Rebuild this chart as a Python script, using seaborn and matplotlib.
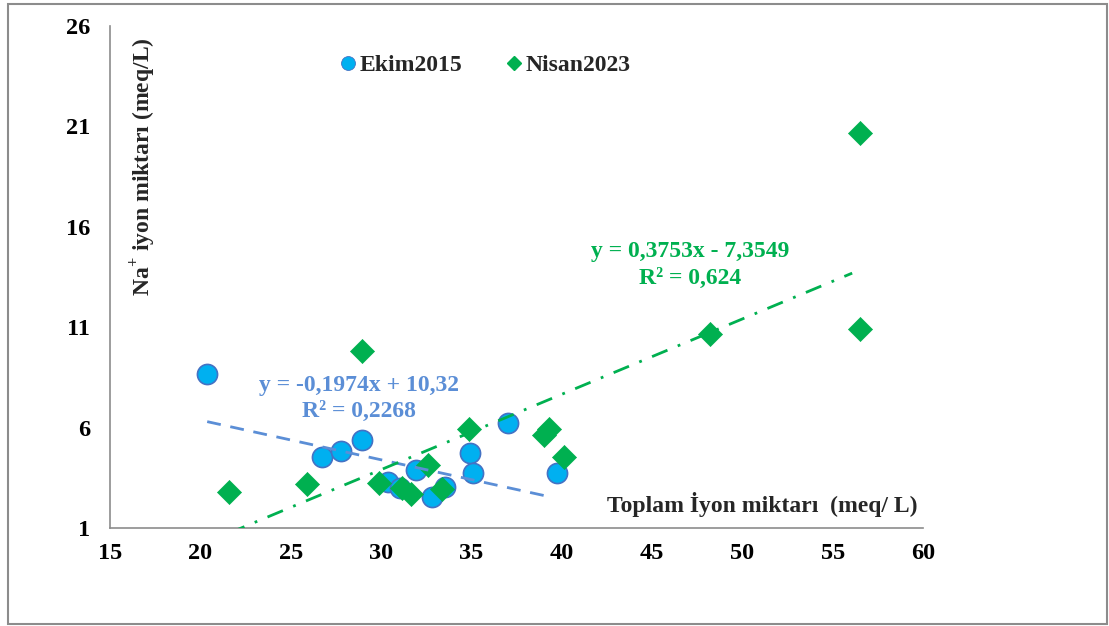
import numpy as np
import pandas as pd
import matplotlib
matplotlib.use("Agg")
import matplotlib.pyplot as plt
from matplotlib.lines import Line2D
from matplotlib.patches import Rectangle
import seaborn as sns

# Ekim 2015 samples: total ions vs Na+ (meq/L)
ekim_total = [20.38, 26.75, 27.78, 28.93, 30.40, 31.05, 31.93, 32.84, 33.54, 34.92, 35.07, 37.04, 39.72]
ekim_na = [8.65, 4.52, 4.83, 5.38, 3.31, 2.98, 3.89, 2.56, 3.06, 4.72, 3.72, 6.24, 3.75]

# Nisan 2023 samples
nisan_total = [21.59, 25.88, 28.96, 29.87, 31.14, 31.66, 32.62, 33.35, 34.87, 39.04, 39.30, 40.14, 48.20, 56.50, 56.50]
nisan_na = [2.78, 3.19, 9.81, 3.23, 2.98, 2.69, 4.14, 2.93, 5.92, 5.63, 5.93, 4.55, 10.66, 10.91, 20.67]

# Linear trend coefficients (slope, intercept)
ekim_fit = (-0.1974, 10.32)
nisan_fit = (0.3753, -7.3549)
ekim_eq = "y = -0,1974x + 10,32\nR² = 0,2268"
nisan_eq = "y = 0,3753x - 7,3549\nR² = 0,624"

x_ticks = [15, 20, 25, 30, 35, 40, 45, 50, 55, 60]
y_ticks = [1, 6, 11, 16, 21, 26]

sns.set_style("white")
plt.rcParams["font.family"] = ["Liberation Serif", "DejaVu Serif"]
plt.rcParams["font.weight"] = "bold"
plt.rcParams["mathtext.fontset"] = "custom"
plt.rcParams["mathtext.rm"] = "Liberation Serif:bold"
plt.rcParams["mathtext.bf"] = "Liberation Serif:bold"

BLUE_FILL = "#00B0F0"
BLUE_EDGE = "#4472C4"
BLUE_TXT = "#5B8ED6"
GREEN = "#00B050"
AXIS = "#8C8C8C"

fig = plt.figure(figsize=(11.09, 6.26), dpi=100)
ax = fig.add_axes([110 / 1109, 1 - 528 / 626, 813 / 1109, 502 / 626])

ekim = pd.DataFrame({"total": ekim_total, "na": ekim_na})
nisan = pd.DataFrame({"total": nisan_total, "na": nisan_na})

sns.scatterplot(data=ekim, x="total", y="na", ax=ax, marker="o", s=210,
                color=BLUE_FILL, edgecolor=BLUE_EDGE, linewidth=1.2, zorder=3)
sns.scatterplot(data=nisan, x="total", y="na", ax=ax, marker="D", s=150,
                color=GREEN, edgecolor=GREEN, linewidth=0.5, zorder=4)

# Trend lines over each series' range
xe = np.array([min(ekim_total), 39.16])
ax.plot(xe, ekim_fit[0] * xe + ekim_fit[1], ls=(0, (5, 3.5)), color=BLUE_TXT,
        lw=2.0, zorder=5)
xn = np.array([min(nisan_total), 56.08])
ax.plot(xn, nisan_fit[0] * xn + nisan_fit[1], ls=(0, (6, 4, 1, 4)), color=GREEN,
        lw=2.0, zorder=6)

ax.text(28.78, 7.45, ekim_eq, color=BLUE_TXT, fontsize=17, ha="center",
        va="center", fontweight="bold", linespacing=1.35, zorder=7)
ax.text(47.1, 14.1, nisan_eq, color=GREEN, fontsize=17, ha="center",
        va="center", fontweight="bold", linespacing=1.35, zorder=7)

ax.set_xlim(15, 60)
ax.set_ylim(1, 26)
ax.set_xticks(x_ticks)
ax.set_yticks(y_ticks)
ax.tick_params(axis="both", labelsize=17.5, colors=AXIS, labelcolor="black",
               length=4.5, width=1.1, direction="out")
ax.tick_params(axis="x", pad=6)
ax.tick_params(axis="y", pad=10)
for lab in ax.get_xticklabels() + ax.get_yticklabels():
    lab.set_fontweight("bold")

for side in ["top", "right"]:
    ax.spines[side].set_visible(False)
for side in ["left", "bottom"]:
    ax.spines[side].set_color(AXIS)
    ax.spines[side].set_linewidth(1.2)
ax.set_xlabel("")
ax.set_ylabel("")

ax.text(0.041, 0.719, r"Na$^{+}$ iyon miktarı (meq/L)", transform=ax.transAxes,
        rotation=90, ha="center", va="center", fontsize=17, fontweight="bold")
ax.text(0.802, 0.046, "Toplam İyon miktarı  (meq/ L)", transform=ax.transAxes,
        ha="center", va="center", fontsize=17, fontweight="bold")

handles = [
    Line2D([], [], marker="o", ls="none", markersize=10, markerfacecolor=BLUE_FILL,
           markeredgecolor=BLUE_EDGE, markeredgewidth=0.6, label="Ekim2015"),
    Line2D([], [], marker="D", ls="none", markersize=7, markerfacecolor=GREEN,
           markeredgecolor=GREEN, label="Nisan2023"),
]
fig.legend(handles=handles, loc="center", bbox_to_anchor=(0.438, 0.895), ncol=2,
           frameon=False, handletextpad=0.2, columnspacing=1.9, handlelength=0.6,
           prop={"family": "Liberation Serif", "weight": "bold", "size": 17})

fig.patches.append(Rectangle((8 / 1109, 2 / 626), 1099 / 1109, 620 / 626,
                             transform=fig.transFigure, fill=False,
                             edgecolor=AXIS, linewidth=1.5))

fig.savefig("out.png", dpi=100)
